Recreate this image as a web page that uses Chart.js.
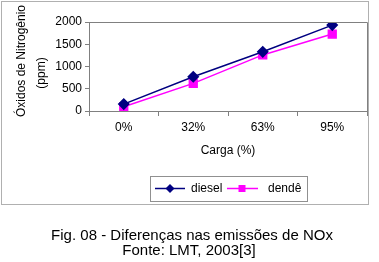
<!DOCTYPE html>
<html>
<head>
<meta charset="utf-8">
<script src="https://cdn.jsdelivr.net/npm/chart.js@4"></script>
<style>
  html, body { margin: 0; padding: 0; background: #fff; }
  #wrap { width: 379px; height: 262px; position: relative; }
</style>
</head>
<body>
<div id="wrap"><canvas id="chart" width="379" height="262"></canvas></div>
<script>
// data
var categories = ['0%', '32%', '63%', '95%'];
var dieselValues = [155, 770, 1330, 1930];
var dendeValues = [95, 620, 1260, 1730];
var yTicks = [0, 500, 1000, 1500, 2000];
var yTitleLines = ['Óxidos de Nitrogênio', '(ppm)'];
var captionLines = ['Fig. 08 - Diferenças nas emissões de NOx', 'Fonte: LMT, 2003[3]'];

var font = 'Liberation Sans, Arial, sans-serif';
var navy = '#000080';
var magenta = '#ff00ff';

function drawMarker(ctx, kind, x, y, r) {
  ctx.beginPath();
  if (kind === 'diamond') {
    ctx.moveTo(x, y - r); ctx.lineTo(x + r, y); ctx.lineTo(x, y + r); ctx.lineTo(x - r, y);
  } else {
    ctx.rect(x - r, y - r, r * 2, r * 2);
  }
  ctx.closePath(); ctx.fill();
}

// frame, legend box, y title and caption (Excel-style extras)
var extras = {
  id: 'extras',
  afterDraw: function (chart) {
    var ctx = chart.ctx, a = chart.chartArea;
    ctx.save();
    // plot area top + right edge
    ctx.strokeStyle = '#808080'; ctx.lineWidth = 1;
    ctx.beginPath();
    ctx.moveTo(a.left, a.top + 0.5); ctx.lineTo(a.right + 0.5, a.top + 0.5); ctx.lineTo(a.right + 0.5, a.bottom);
    ctx.stroke();
    // outer chart border
    ctx.strokeStyle = '#b0b0b0';
    ctx.strokeRect(1.5, 1.5, 367, 203);
    // legend
    ctx.strokeStyle = '#909090';
    ctx.strokeRect(150.5, 176.5, 157, 25);
    var ds = chart.data.datasets;
    var items = [
      { x0: 155, x1: 185, mx: 170, tx: 191, kind: 'diamond', r: 4.5 },
      { x0: 227, x1: 258, mx: 242, tx: 268, kind: 'square', r: 3.5 }
    ];
    ctx.font = '12px ' + font;
    ctx.textBaseline = 'middle'; ctx.textAlign = 'left';
    items.forEach(function (it, i) {
      ctx.strokeStyle = ds[i].borderColor; ctx.fillStyle = ds[i].borderColor;
      ctx.lineWidth = 1.5;
      ctx.beginPath(); ctx.moveTo(it.x0, 188.5); ctx.lineTo(it.x1, 188.5); ctx.stroke();
      drawMarker(ctx, it.kind, it.mx, 188.5, it.r);
      ctx.fillStyle = '#000';
      ctx.fillText(ds[i].label, it.tx, 189);
    });
    // y axis title, rotated
    ctx.font = '12px ' + font;
    ctx.textAlign = 'center';
    ctx.fillStyle = '#000';
    [[22, 61], [42, 73]].forEach(function (p, i) {
      ctx.save();
      ctx.translate(p[0], p[1]);
      ctx.rotate(-Math.PI / 2);
      ctx.fillText(yTitleLines[i], 0, 0);
      ctx.restore();
    });
    // caption
    ctx.font = '15px ' + font;
    ctx.fillText(captionLines[0], 192, 236);
    ctx.fillText(captionLines[1], 189, 251);
    ctx.restore();
  }
};

new Chart(document.getElementById('chart').getContext('2d'), {
  type: 'line',
  data: {
    labels: categories,
    datasets: [
      { label: 'diesel', data: dieselValues, borderColor: navy, backgroundColor: navy,
        borderWidth: 1.5, pointStyle: 'rectRot', pointRadius: 5, pointHoverRadius: 5 },
      { label: 'dendê', data: dendeValues, borderColor: magenta, backgroundColor: magenta,
        borderWidth: 1.5, pointStyle: 'rect', pointRadius: 5.5, pointHoverRadius: 5.5 }
    ]
  },
  options: {
    responsive: false,
    animation: false,
    events: [],
    layout: { padding: { left: 0, right: 12, top: 22, bottom: 101 } },
    plugins: {
      tooltip: { enabled: false },
      legend: { display: false }
    },
    scales: {
      x: {
        offset: true,
        afterFit: function (s) { s.height = 50; },
        grid: { offset: true, drawOnChartArea: false, drawTicks: true, tickLength: 5, color: '#808080' },
        border: { color: '#808080' },
        ticks: { font: { family: font, size: 12 }, color: '#000', padding: 4, maxRotation: 0 },
        title: { display: true, text: 'Carga (%)', font: { family: font, size: 12 }, color: '#000', padding: { top: 0, bottom: 3 } }
      },
      y: {
        min: 0, max: 2000,
        afterBuildTicks: function (s) { s.ticks = yTicks.map(function (v) { return { value: v }; }); },
        afterFit: function (s) { s.width = 89; },
        grid: { drawOnChartArea: false, drawTicks: true, tickLength: 4, color: '#808080' },
        border: { color: '#808080' },
        ticks: { font: { family: font, size: 12 }, color: '#000', padding: 3,
          callback: function (v) { return String(v); } }
      }
    }
  },
  plugins: [extras]
});
</script>
</body>
</html>
